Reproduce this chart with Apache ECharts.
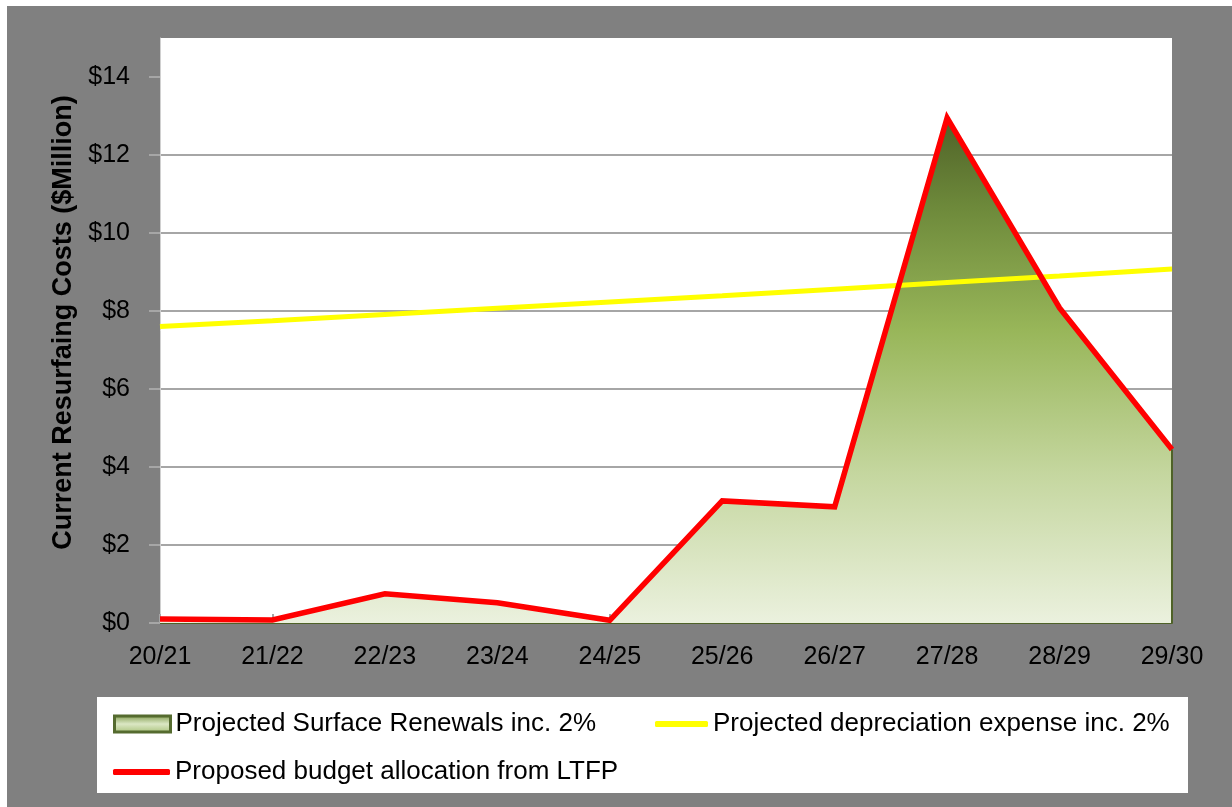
<!DOCTYPE html>
<html>
<head>
<meta charset="utf-8">
<style>
  html, body { margin: 0; padding: 0; background: #ffffff; }
  #chart { width: 1232px; height: 807px; }
</style>
<script src="https://cdn.jsdelivr.net/npm/echarts@6/dist/echarts.min.js"></script>
</head>
<body>
<div id="chart"></div>
<script>
// Financial years on the category axis
const years = ['20/21', '21/22', '22/23', '23/24', '24/25', '25/26', '26/27', '27/28', '28/29', '29/30'];

// Projected surface renewals inc. 2% ($ million)
const surfaceRenewals = [0.10, 0.08, 0.75, 0.52, 0.07, 3.13, 2.98, 12.95, 8.08, 4.45];

// Projected depreciation expense inc. 2% ($ million)
const depreciation = [7.60, 7.75, 7.91, 8.07, 8.23, 8.39, 8.56, 8.73, 8.90, 9.08];

// Proposed budget allocation from LTFP ($ million)
const budgetAllocation = [0.10, 0.08, 0.75, 0.52, 0.07, 3.13, 2.98, 12.95, 8.08, 4.45];

// Value-axis tick values
const yTicks = [0, 2, 4, 6, 8, 10, 12, 14];

const seriesNames = [
  'Projected Surface Renewals inc. 2%',
  'Projected depreciation expense inc. 2%',
  'Proposed budget allocation from LTFP'
];

const FONT = "'Liberation Sans', Arial, sans-serif";
const GRID_LINE = '#a6a6a6';
const OLIVE = '#4f6228';

const chart = echarts.init(document.getElementById('chart'), null, { renderer: 'canvas' });

const legendText = { fontSize: 26, color: '#000', fontFamily: FONT, lineHeight: 26 };

chart.setOption({
  backgroundColor: '#808080',
  animation: false,
  graphic: [
    // light margins along the top and left edges
    { type: 'rect', left: 0, top: 0, shape: { width: 1232, height: 6 }, style: { fill: '#ffffff' }, z: 0 },
    { type: 'rect', left: 0, top: 0, shape: { width: 7, height: 807 }, style: { fill: '#ffffff' }, z: 0 },
    // legend panel
    { type: 'rect', left: 97, top: 697, shape: { width: 1091, height: 96 }, style: { fill: '#ffffff' }, z: 0 }
  ],
  grid: {
    left: 160, right: 60, top: 38, bottom: 184,
    show: true, backgroundColor: '#ffffff', borderWidth: 0
  },
  legend: [
    {
      left: 113, top: 711, padding: 0, itemGap: 0,
      itemWidth: 56, itemHeight: 16,
      textStyle: legendText,
      data: [{
        name: seriesNames[0],
        icon: 'rect',
        itemStyle: {
          color: {
            type: 'linear', x: 0, y: 0, x2: 0, y2: 1,
            colorStops: [
              { offset: 0, color: '#7b9747' },
              { offset: 0.5, color: '#dbe7c4' },
              { offset: 1, color: '#a7c078' }
            ]
          },
          borderColor: '#556b2f', borderWidth: 3
        }
      }]
    },
    {
      left: 655, top: 711, padding: 0,
      itemWidth: 53, itemHeight: 6,
      textStyle: legendText,
      data: [{ name: seriesNames[1], icon: 'roundRect' }]
    },
    {
      left: 113, top: 759, padding: 0,
      itemWidth: 57, itemHeight: 6,
      textStyle: legendText,
      data: [{ name: seriesNames[2], icon: 'roundRect' }]
    }
  ],
  xAxis: {
    type: 'category',
    data: years,
    boundaryGap: false,
    axisLine: { show: true, lineStyle: { color: OLIVE, width: 2 } },
    axisTick: { show: true, inside: true, length: 9, alignWithLabel: true, lineStyle: { color: GRID_LINE, width: 2 } },
    axisLabel: { fontSize: 25, color: '#000', fontFamily: FONT, margin: 22 },
    splitLine: { show: false }
  },
  yAxis: {
    type: 'value',
    min: 0, max: 15, interval: 2,
    name: 'Current Resurfaing Costs ($Million)',
    nameLocation: 'middle',
    nameRotate: 90,
    nameGap: 82,
    nameTextStyle: { fontSize: 27, fontWeight: 'bold', color: '#000', fontFamily: FONT, padding: [0, 0, 0, 16] },
    axisLine: { show: true, lineStyle: { color: '#d0d0d0', width: 1 } },
    axisTick: { show: true, length: 11, customValues: yTicks, lineStyle: { color: GRID_LINE, width: 2 } },
    axisLabel: {
      fontSize: 25, color: '#000', fontFamily: FONT, margin: 30,
      customValues: yTicks, showMaxLabel: true,
      formatter: v => '$' + v
    },
    splitLine: { show: true, showMaxLine: false, showMinLine: false, lineStyle: { color: GRID_LINE, width: 2 } }
  },
  series: [
    {
      name: seriesNames[0],
      type: 'line',
      data: surfaceRenewals,
      symbol: 'none',
      z: 2,
      lineStyle: { color: OLIVE, width: 2 },
      itemStyle: { color: '#9bbb59' },
      areaStyle: {
        opacity: 1,
        color: {
          type: 'linear', x: 0, y: 0, x2: 0, y2: 1,
          colorStops: [
            { offset: 0, color: '#4f6228' },
            { offset: 0.18, color: '#6e8a3b' },
            { offset: 0.42, color: '#98b659' },
            { offset: 0.7, color: '#c4d69e' },
            { offset: 1, color: '#ebf1de' }
          ]
        }
      },
      markLine: {
        silent: true,
        symbol: 'none',
        label: { show: false },
        lineStyle: { color: OLIVE, width: 2, type: 'solid' },
        data: [[
          { coord: [years[years.length - 1], 0] },
          { coord: [years[years.length - 1], surfaceRenewals[surfaceRenewals.length - 1]] }
        ]]
      }
    },
    {
      name: seriesNames[1],
      type: 'line',
      data: depreciation,
      symbol: 'none',
      z: 3,
      lineStyle: { color: '#ffff00', width: 5 },
      itemStyle: { color: '#ffff00' }
    },
    {
      name: seriesNames[2],
      type: 'line',
      data: budgetAllocation,
      symbol: 'none',
      z: 4,
      lineStyle: { color: '#ff0000', width: 5.5, join: 'miter' },
      itemStyle: { color: '#ff0000' }
    }
  ]
});
</script>
</body>
</html>
